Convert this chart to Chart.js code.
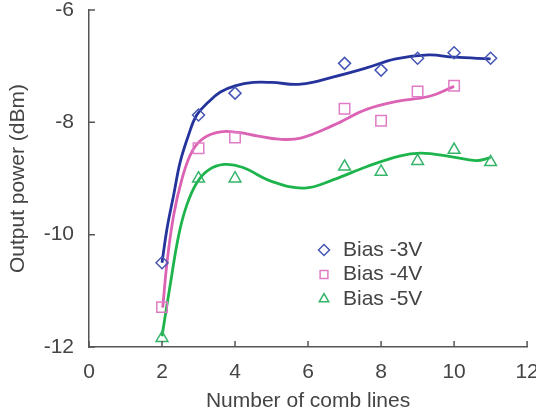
<!DOCTYPE html>
<html>
<head>
<meta charset="utf-8">
<script src="https://cdn.jsdelivr.net/npm/chart.js@4/dist/chart.umd.min.js"></script>
<style>
    html, body { margin: 0; padding: 0; background: #fff; overflow: hidden; }
    #wrap { width: 536px; height: 414px; position: relative; }
</style>
</head>
<body>
<div id="wrap"><canvas id="chart"></canvas></div>
<script>
// measured points
const combLines3 = [2, 3, 4, 7, 8, 9, 10, 11];
const bias3 = [-10.5, -7.87, -7.48, -6.95, -7.07, -6.86, -6.76, -6.86];
const combLines4 = [2, 3, 4, 7, 8, 9, 10];
const bias4 = [-11.29, -8.46, -8.27, -7.76, -7.97, -7.45, -7.35];
const combLines5 = [2, 3, 4, 7, 8, 9, 10, 11];
const bias5 = [-11.84, -9.0, -9.0, -8.79, -8.88, -8.69, -8.49, -8.71];

// fitted curves
const fitX3 = [2, 2.14, 2.32, 2.5, 2.73, 2.95, 3.27, 3.6, 4, 4.5, 5, 5.8, 6.7, 7.6, 8.4, 9.3, 10, 11];
const fit3 = [-10.5, -9.88, -9.29, -8.7, -8.22, -7.87, -7.64, -7.46, -7.35, -7.29, -7.29, -7.32, -7.19, -7.03, -6.87, -6.8, -6.84, -6.87];
const fitX4 = [2.02, 2.14, 2.32, 2.55, 2.82, 3.14, 3.6, 4.1, 4.6, 5.2, 5.8, 6.7, 7.6, 8.4, 9.3, 10];
const fit4 = [-11.3, -10.48, -9.65, -9.0, -8.52, -8.28, -8.17, -8.18, -8.24, -8.3, -8.28, -8.05, -7.77, -7.63, -7.54, -7.36];
const fitX5 = [2, 2.24, 2.46, 2.68, 2.95, 3.27, 3.7, 4.2, 5, 5.9, 6.7, 7.6, 8.5, 9.1, 9.9, 10.6, 11];
const fit5 = [-11.81, -10.83, -10.0, -9.47, -9.08, -8.85, -8.75, -8.8, -9.05, -9.17, -9.02, -8.79, -8.6, -8.55, -8.61, -8.68, -8.63];

const seriesLabels = ['Bias -3V', 'Bias -4V', 'Bias -5V'];

const FONT = "'Liberation Sans', Arial, sans-serif";
const TEXT = '#444';

const toPoints = (xs, ys) => xs.map((x, i) => ({ x: x, y: ys[i] }));

function markerSet(label, xs, ys, style, color, radius) {
    return {
        type: 'scatter',
        label: label,
        data: toPoints(xs, ys),
        pointStyle: style,
        pointRadius: radius,
        pointBorderColor: color,
        pointBackgroundColor: 'rgba(255,255,255,0)',
        pointBorderWidth: 1.5,
        showLine: false,
        order: 0
    };
}

function curveSet(xs, ys, color) {
    return {
        type: 'line',
        label: '',
        data: toPoints(xs, ys),
        borderColor: color,
        borderWidth: 2.8,
        pointRadius: 0,
        fill: false,
        tension: 0.4,
        order: 1
    };
}

// inward tick marks on both axes
const innerTicks = {
    id: 'innerTicks',
    afterDatasetsDraw(chart) {
        const ctx = chart.ctx;
        const x = chart.scales.x;
        const y = chart.scales.y;
        const area = chart.chartArea;
        ctx.save();
        ctx.strokeStyle = '#555';
        ctx.lineWidth = 1.5;
        ctx.beginPath();
        x.ticks.forEach(t => {
            const px = x.getPixelForValue(t.value);
            ctx.moveTo(px, area.bottom);
            ctx.lineTo(px, area.bottom - 6);
        });
        y.ticks.forEach(t => {
            const py = y.getPixelForValue(t.value);
            ctx.moveTo(area.left, py);
            ctx.lineTo(area.left + 6, py);
        });
        ctx.stroke();
        ctx.restore();
    }
};

// legend inside the plot
const insideLegend = {
    id: 'insideLegend',
    afterDraw(chart) {
        const ctx = chart.ctx;
        const rows = chart.data.datasets.filter(d => d.type === 'scatter');
        ctx.save();
        rows.forEach((d, i) => {
            const cy = 250 + i * 24.5;
            ctx.strokeStyle = d.pointBorderColor;
            ctx.fillStyle = 'rgba(255,255,255,0)';
            ctx.lineWidth = 1.5;
            Chart.helpers.drawPoint(ctx, { pointStyle: d.pointStyle, radius: 5.5, rotation: 0, borderWidth: 1.5 }, 324, cy);
            ctx.fillStyle = TEXT;
            ctx.font = '21px ' + FONT;
            ctx.textBaseline = 'middle';
            ctx.textAlign = 'left';
            ctx.fillText(d.label, 343, cy);
        });
        ctx.restore();
    }
};

new Chart(document.getElementById('chart'), {
    data: {
        datasets: [
            markerSet(seriesLabels[0], combLines3, bias3, 'rectRot', '#4656b4', 6),
            markerSet(seriesLabels[1], combLines4, bias4, 'rect', '#e07cc5', 7.4),
            markerSet(seriesLabels[2], combLines5, bias5, 'triangle', '#35b46a', 6.8),
            curveSet(fitX3, fit3, '#24349c'),
            curveSet(fitX4, fit4, '#dc62b4'),
            curveSet(fitX5, fit5, '#1eb44c')
        ]
    },
    options: {
        responsive: true,
        maintainAspectRatio: false,
        animation: false,
        layout: { padding: { top: 10, right: 3, bottom: 0, left: 0 } },
        plugins: {
            legend: { display: false },
            tooltip: { enabled: false }
        },
        scales: {
            x: {
                type: 'linear',
                min: 0,
                max: 12,
                grid: { display: false, drawTicks: false },
                border: { display: true, color: '#555', width: 1.5 },
                ticks: { stepSize: 2, padding: 13, color: TEXT, font: { family: FONT, size: 21 } },
                title: {
                    display: true,
                    text: 'Number of comb lines',
                    color: TEXT,
                    font: { family: FONT, size: 21 },
                    padding: { top: 0, bottom: 0 }
                },
                afterFit(scale) {
                    scale.height = 67;
                    scale.paddingRight = 0;
                    scale.paddingLeft = 0;
                }
            },
            y: {
                type: 'linear',
                min: -12,
                max: -6,
                grid: { display: false, drawTicks: false },
                border: { display: true, color: '#555', width: 1.5 },
                ticks: { stepSize: 2, padding: 15, color: TEXT, font: { family: FONT, size: 21 } },
                title: {
                    display: true,
                    text: 'Output power (dBm)',
                    color: TEXT,
                    font: { family: FONT, size: 21 },
                    padding: { top: 6, bottom: 0 }
                },
                afterFit(scale) {
                    scale.width = 89;
                    scale.paddingTop = 0;
                    scale.paddingBottom = 0;
                }
            }
        }
    },
    plugins: [innerTicks, insideLegend]
});
</script>
</body>
</html>
